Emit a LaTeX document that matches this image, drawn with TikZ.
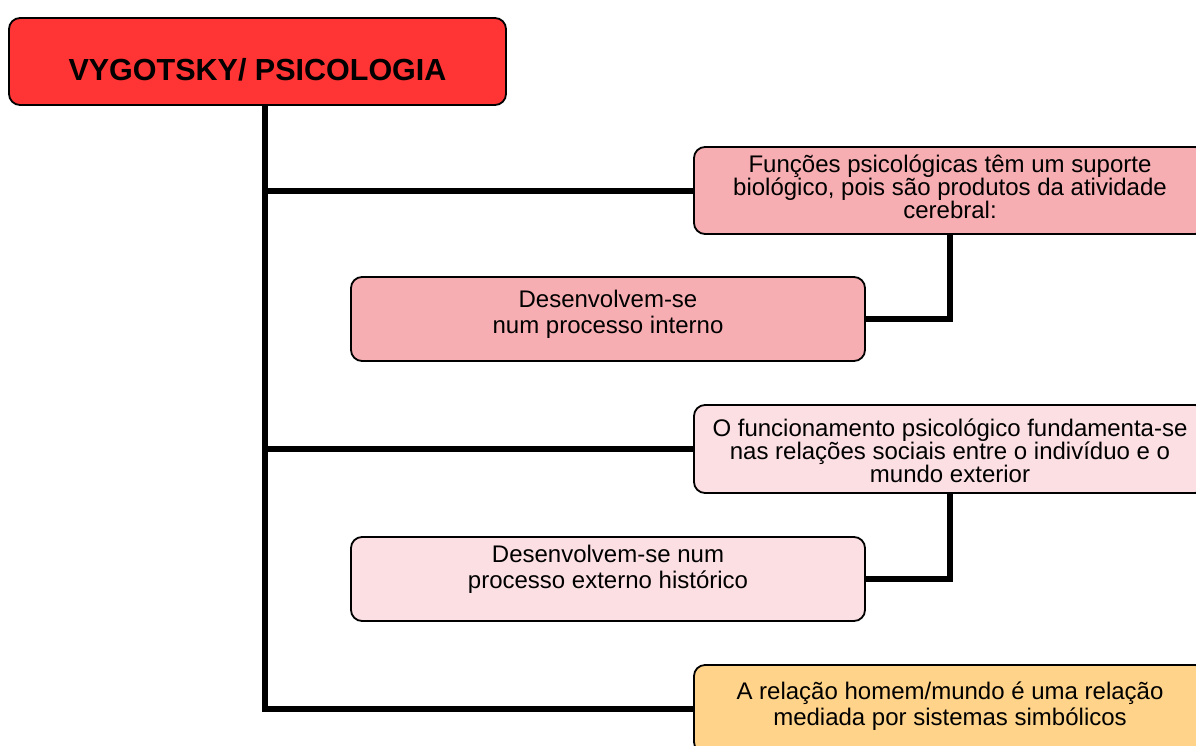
\documentclass[tikz,border=0pt]{standalone}
\usepackage{fontspec}
\setmainfont{Liberation Sans}
\usepackage{tikz}
\usetikzlibrary{calc}
\definecolor{titelrot}{HTML}{FF3434}
\definecolor{rosa}{HTML}{F7AEB2}
\definecolor{hrosa}{HTML}{FCDFE3}
\definecolor{gelb}{HTML}{FFD48A}
\tikzset{
  kasten/.style={draw=black,line width=1.8pt,rounded corners=11pt,align=center,inner sep=0pt,
    text depth=5pt,font=\fontsize{24}{26}\selectfont},
  dicht/.style={font=\fontsize{24}{23}\selectfont},
  rechts/.style={kasten,minimum width=512pt,minimum height=88pt},
  links/.style={kasten,minimum width=514pt,minimum height=84pt},
  linie/.style={black,line width=6pt,line join=miter},
}
\begin{document}
\begin{tikzpicture}[x=1pt,y=-1pt]
  \useasboundingbox (0,0) rectangle (1196,745);
  % ===== Titel =====
  \node[kasten,fill=titelrot,minimum width=497pt,minimum height=87pt,text height=37pt,text depth=0pt,
    font=\fontsize{30.5}{33}\selectfont\bfseries] (titel) at (257.5,61.5) {VYGOTSKY/ PSICOLOGIA};
  % ===== rechte Spalte =====
  \node[rechts,dicht,fill=rosa,minimum height=87pt,text height=60pt] (bio) at (950,190.5)
    {Funções psicológicas têm um suporte\\ biológico, pois são produtos da atividade\\ cerebral:};
  \node[rechts,dicht,fill=hrosa,text height=71pt] (social) at (950,449)
    {O funcionamento psicológico fundamenta-se\\ nas relações sociais entre o indivíduo e o\\ mundo exterior};
  \node[rechts,fill=gelb,text height=37pt] (simbolo) at (950,709)
    {A relação homem/mundo é uma relação\\ mediada por sistemas simbólicos};
  % ===== linke Spalte =====
  \node[links,fill=rosa,text height=33pt] (interno) at (608,319)
    {Desenvolvem-se\\ num processo interno};
  \node[links,fill=hrosa,text height=23pt] (externo) at (608,579)
    {Desenvolvem-se num\\ processo externo histórico};
  % ===== Verbindungen =====
  \coordinate (stamm) at (265,709);
  \draw[linie] (titel.south -| stamm) |- (simbolo.west);
  \draw[linie] (stamm |- bio.west) -- (bio.west);
  \draw[linie] (stamm |- social.west) -- (social.west);
  \draw[linie] (bio.south) |- (interno.east);
  \draw[linie] (social.south) |- (externo.east);
\end{tikzpicture}
\end{document}
